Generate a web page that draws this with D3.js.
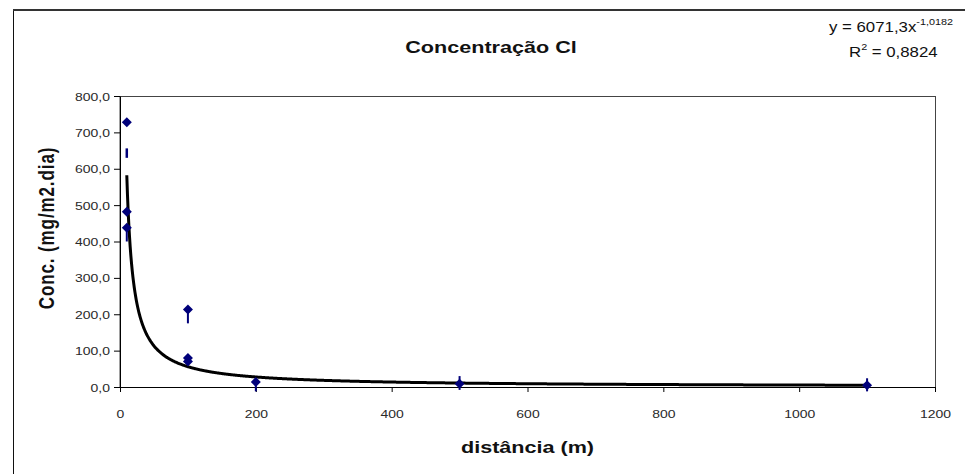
<!DOCTYPE html>
<html>
<head>
<meta charset="utf-8">
<script src="https://cdn.jsdelivr.net/npm/d3@7"></script>
<style>
  html, body { margin: 0; padding: 0; background: #fff; }
  svg { display: block; }
  text { font-family: "Liberation Sans", Arial, sans-serif; }
</style>
</head>
<body>
<svg id="chart" width="965" height="474"></svg>
<script>
// ---- data ----
const chartTitle = "Concentração Cl";
const xTitle = "distância (m)";
const yTitle = "Conc. (mg/m2.dia)";
const xTicks = [0, 200, 400, 600, 800, 1000, 1200];
const yTicks = [0, 100, 200, 300, 400, 500, 600, 700, 800];

const distances      = [10, 10, 10, 100, 100, 100, 200, 500, 1100];
const concentrations = [728, 482, 438, 213, 80, 70, 14, 9, 5];
const barLow         = [null, null, 400, 175, null, null, -12, -8, -12];
const barHigh        = [null, null, null, null, null, null, null, 30, 24];

const extraDashX  = [10];
const extraDashLo = [630];
const extraDashHi = [656];

// power trendline shown on the chart: y = 6071,3 x^-1,0182 ; R² = 0,8824
const trendA = 6071.3;
const trendB = -1.0182;
const trendXStart = 10;
const trendXEnd = 1100;
const eqMain = "y = 6071,3x";
const eqExp = "-1,0182";
const r2Value = "0,8824";

// ---- layout ----
const svg = d3.select("#chart");
const SX = 1.27; // horizontal stretch of the original picture's text
const plot = { left: 120, right: 935, top: 96, bottom: 387 };
const navy = "#00007a";

const x = d3.scaleLinear().domain([0, 1200]).range([plot.left, plot.right]);
const y = d3.scaleLinear().domain([0, 800]).range([plot.bottom, plot.top]);

const locale = d3.formatLocale({ decimal: ",", thousands: ".", grouping: [3], currency: ["", ""] });
const fmt1 = locale.format(".1f");

// outer frame (extends beyond the window at right and bottom)
svg.append("rect").attr("x", 13.5).attr("y", 10).attr("width", 1000).attr("height", 500)
  .attr("fill", "none").attr("stroke", "#111").attr("stroke-width", 1);
svg.append("line").attr("x1", 13).attr("x2", 965).attr("y1", 10).attr("y2", 10)
  .attr("stroke", "#333").attr("stroke-width", 2);

// plot area box
svg.append("rect").attr("x", plot.left).attr("y", plot.top + 0.5)
  .attr("width", plot.right - plot.left + 0.5).attr("height", plot.bottom - plot.top)
  .attr("fill", "#fff").attr("stroke", "#444").attr("stroke-width", 1);

// axes
const gx = svg.append("g").attr("transform", `translate(0,${plot.bottom})`)
  .call(d3.axisBottom(x).tickValues(xTicks).tickSize(5).tickSizeOuter(0).tickFormat(d3.format("d")));
gx.select(".domain").attr("stroke", "#000");
gx.selectAll(".tick line").attr("stroke", "#000");
gx.selectAll(".tick text").attr("y", 0).attr("dy", 0)
  .attr("transform", `translate(0,31) scale(${SX},1)`)
  .attr("font-size", 11).attr("fill", "#2a2a2a");

const gy = svg.append("g").attr("transform", `translate(${plot.left},0)`)
  .call(d3.axisLeft(y).tickValues(yTicks).tickSize(6).tickSizeOuter(0).tickFormat(fmt1));
gy.select(".domain").attr("stroke", "#000");
gy.selectAll(".tick line").attr("stroke", "#000");
gy.selectAll(".tick text").attr("x", 0).attr("dy", 0)
  .attr("transform", `translate(-10,4) scale(${SX},1)`)
  .attr("font-size", 11).attr("fill", "#2a2a2a");

// trendline
const trendPts = d3.range(trendXStart, trendXEnd + 0.01, 1).map(d => [d, trendA * Math.pow(d, trendB)]);
svg.append("path").datum(trendPts)
  .attr("fill", "none").attr("stroke", "#000").attr("stroke-width", 3)
  .attr("d", d3.line().x(d => x(d[0])).y(d => y(d[1])).curve(d3.curveMonotoneX));

// vertical bar fragments
const pts = distances.map((d, i) => ({ x: d, y: concentrations[i], lo: barLow[i], hi: barHigh[i] }));
svg.append("g").selectAll("line.bar").data(pts.filter(p => p.lo !== null || p.hi !== null))
  .join("line").attr("class", "bar")
  .attr("x1", p => x(p.x)).attr("x2", p => x(p.x))
  .attr("y1", p => y(p.hi !== null ? p.hi : p.y)).attr("y2", p => y(p.lo !== null ? p.lo : p.y))
  .attr("stroke", navy).attr("stroke-width", 2);

svg.append("g").selectAll("line.dash").data(extraDashX.map((d, i) => ({ x: d, lo: extraDashLo[i], hi: extraDashHi[i] })))
  .join("line").attr("class", "dash")
  .attr("x1", p => x(p.x)).attr("x2", p => x(p.x))
  .attr("y1", p => y(p.hi)).attr("y2", p => y(p.lo))
  .attr("stroke", navy).attr("stroke-width", 2.5);

// diamond markers
svg.append("g").selectAll("path.pt").data(pts).join("path").attr("class", "pt")
  .attr("transform", p => `translate(${x(p.x)},${y(p.y)})`)
  .attr("d", "M0,-5L5,0L0,5L-5,0Z")
  .attr("fill", navy);

// titles
svg.append("text").attr("transform", `translate(491,53) scale(${SX},1)`)
  .attr("text-anchor", "middle").attr("font-size", 17).attr("font-weight", "bold").attr("fill", "#111")
  .text(chartTitle);

svg.append("text").attr("transform", `translate(${(plot.left + plot.right) / 2},453) scale(${SX},1)`)
  .attr("text-anchor", "middle").attr("font-size", 17).attr("font-weight", "bold").attr("fill", "#111")
  .text(xTitle);

svg.append("text").attr("transform", `translate(54,228) scale(${SX},1) rotate(-90)`)
  .attr("text-anchor", "middle").attr("font-size", 17).attr("font-weight", "bold").attr("fill", "#111")
  .attr("letter-spacing", 0.9)
  .text(yTitle);

// equation
const eq = svg.append("text").attr("transform", `translate(829,32) scale(1.2,1)`)
  .attr("font-size", 14).attr("fill", "#111");
eq.append("tspan").text(eqMain);
eq.append("tspan").attr("dy", -7).attr("font-size", 9).text(eqExp);

const r2 = svg.append("text").attr("transform", `translate(849,57) scale(1.2,1)`)
  .attr("font-size", 14).attr("fill", "#111");
r2.append("tspan").text("R");
r2.append("tspan").attr("dy", -7).attr("font-size", 9).text("2");
r2.append("tspan").attr("dy", 7).text(" = " + r2Value);
</script>
</body>
</html>
